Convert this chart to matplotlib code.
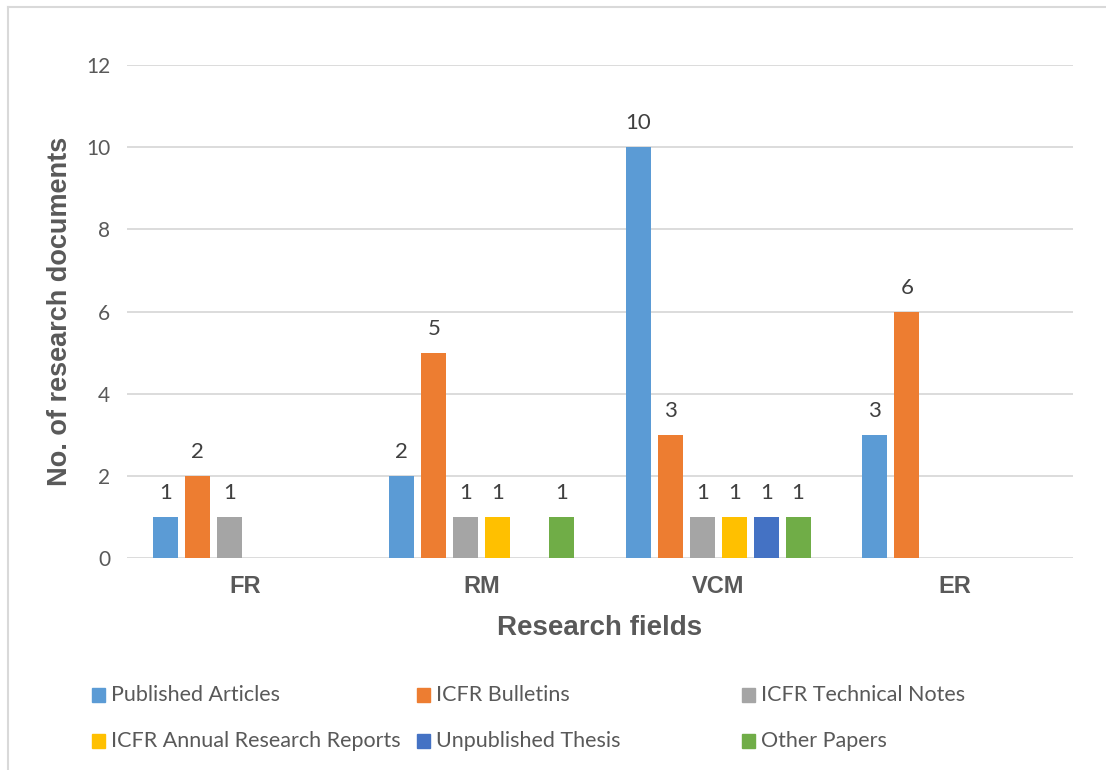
import numpy as np
import matplotlib.pyplot as plt
from matplotlib.patches import Rectangle
from matplotlib.lines import Line2D

# Research documents per field, one list per document type
fields = ['FR', 'RM', 'VCM', 'ER']
series_names = ['Published Articles', 'ICFR Bulletins', 'ICFR Technical Notes',
                'ICFR Annual Research Reports', 'Unpublished Thesis', 'Other Papers']
published_articles = [1, 2, 10, 3]
icfr_bulletins = [2, 5, 3, 6]
technical_notes = [1, 1, 1, 0]
annual_reports = [0, 1, 1, 0]
unpublished_thesis = [0, 0, 1, 0]
other_papers = [0, 1, 1, 0]

series_values = [published_articles, icfr_bulletins, technical_notes,
                 annual_reports, unpublished_thesis, other_papers]
colors = ['#5B9BD5', '#ED7D31', '#A5A5A5', '#FFC000', '#4472C4', '#70AD47']

TEXT = '#595959'
LABEL = '#404040'
BODY_FONT = ['Lato', 'DejaVu Sans']
BOLD_FONT = ['Liberation Sans', 'DejaVu Sans']

W, H = 1106, 770
fig = plt.figure(figsize=(W / 100, H / 100), dpi=100)
ax = fig.add_axes([127 / W, 1 - 558 / H, (1073 - 127) / W, (558 - 65) / H])

x = np.arange(len(fields))
pitch = 0.135
width = 0.106
n = len(series_values)
for i, (vals, col) in enumerate(zip(series_values, colors)):
    offs = (i - (n - 1) / 2) * pitch
    for xi, v in zip(x, vals):
        if v == 0:
            continue
        ax.bar(xi + offs, v, width=width, color=col, zorder=3)
        ax.annotate(str(v), (xi + offs, v), xytext=(0, 10), textcoords='offset points',
                    ha='center', va='bottom', fontsize=16, color=LABEL,
                    family=BODY_FONT)

ax.set_xlim(-0.5, len(fields) - 0.5)
ax.set_ylim(0, 12)
ax.set_yticks(range(0, 13, 2))
ax.yaxis.grid(True, color='#D9D9D9', linewidth=1.3, zorder=0)
ax.set_axisbelow(True)
for s in ax.spines.values():
    s.set_visible(False)
ax.tick_params(axis='both', length=0)
ax.tick_params(axis='y', pad=12)
ax.tick_params(axis='x', pad=12)
ax.set_xticks(x)
ax.set_xticklabels(fields, fontsize=17, fontweight='bold', color=TEXT, family=BOLD_FONT)
for lbl in ax.get_yticklabels():
    lbl.set_fontsize(15)
    lbl.set_color(TEXT)
    lbl.set_family(BODY_FONT)

ax.set_xlabel('Research fields', fontsize=20, fontweight='bold', color=TEXT,
              family=BOLD_FONT)
ax.set_ylabel('No. of research documents', fontsize=19.5, fontweight='bold', color=TEXT,
              family=BOLD_FONT)
ax.xaxis.set_label_coords(0.5, (558 - 628) / 493)
ax.xaxis.label.set_va('center')
ax.yaxis.set_label_coords((60 - 127) / 946, 0.5)
ax.yaxis.label.set_va('center')

# legend entries: two rows of three, square swatch then label
legend_cols = [92, 417, 742]
legend_rows = [695, 741]
for k, (name, col) in enumerate(zip(series_names, colors)):
    px = legend_cols[k % 3]
    py = legend_rows[k // 3]
    fig.add_artist(Rectangle((px / W, 1 - (py + 7) / H), 13 / W, 14 / H,
                             color=col, transform=fig.transFigure))
    fig.text((px + 19) / W, 1 - py / H, name, ha='left', va='center',
             fontsize=15.5, color=TEXT, family=BODY_FONT)

# chart-area border (top and left edges)
fig.add_artist(Line2D([8 / W, 8 / W], [0, 1 - 7 / H], color='#D9D9D9', lw=1.5,
                      transform=fig.transFigure))
fig.add_artist(Line2D([8 / W, 1], [1 - 7 / H, 1 - 7 / H], color='#D9D9D9', lw=1.5,
                      transform=fig.transFigure))

fig.savefig('out.png', dpi=100)
